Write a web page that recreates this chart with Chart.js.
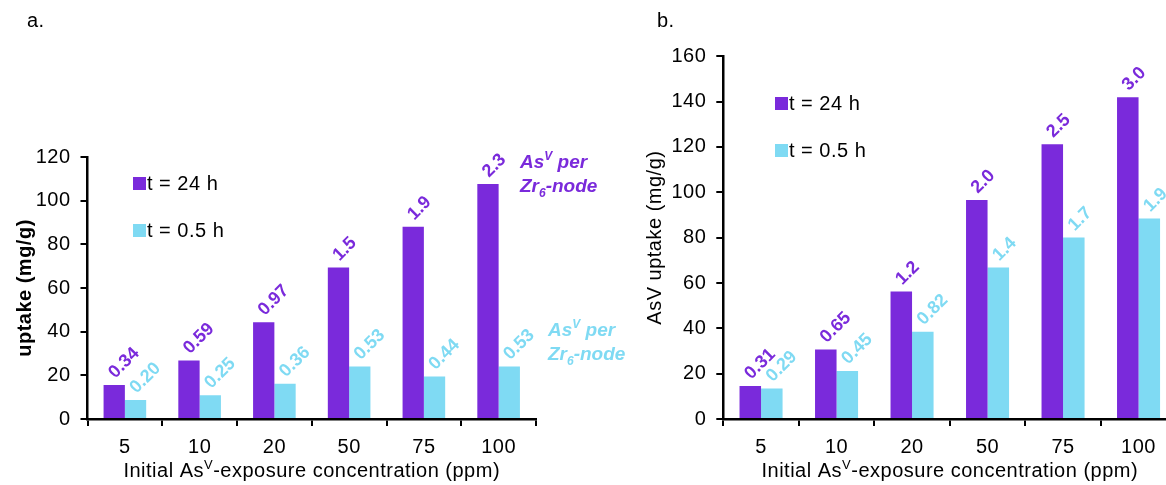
<!DOCTYPE html>
<html>
<head>
<meta charset="utf-8">
<script src="https://cdn.jsdelivr.net/npm/chart.js@4.4.1/dist/chart.umd.min.js"></script>
<style>
  html, body { margin: 0; padding: 0; background: #fff; }
  #page { position: relative; width: 1166px; height: 485px; overflow: hidden; }
  .panel { position: absolute; top: 0; height: 485px; }
  #boxA { left: 0; width: 650px; }
  #boxB { left: 600px; width: 600px; }
</style>
</head>
<body>
<div id="page">
  <div class="panel" id="boxA"><canvas id="chartA"></canvas></div>
  <div class="panel" id="boxB"><canvas id="chartB"></canvas></div>
</div>
<script>
const concentrations = ['5', '10', '20', '50', '75', '100'];
const seriesNames = ['t = 24 h', 't = 0.5 h'];
const PURPLE = '#7a2adb';
const CYAN = '#7fdaf3';
const FONT = '"Liberation Sans", Arial, sans-serif';
const SPACING = '0.5px';

// panel a - uptake in mg/g and As(V) per Zr6 node
const uptakeA24 = [15.6, 26.8, 44.3, 69.4, 88.1, 107.6];
const uptakeA05 = [8.7, 10.9, 16.1, 24.0, 19.5, 24.0];
const perNodeA24 = ['0.34', '0.59', '0.97', '1.5', '1.9', '2.3'];
const perNodeA05 = ['0.20', '0.25', '0.36', '0.53', '0.44', '0.53'];

// panel b
const uptakeB24 = [14.6, 30.7, 56.2, 96.6, 121.2, 141.9];
const uptakeB05 = [13.5, 21.2, 38.5, 66.8, 80.1, 88.5];
const perNodeB24 = ['0.31', '0.65', '1.2', '2.0', '2.5', '3.0'];
const perNodeB05 = ['0.29', '0.45', '0.82', '1.4', '1.7', '1.9'];

const yMaxA = 120;
const yMaxB = 160;
const yStep = 20;

// draws a row of text pieces (for super/subscripts)
function drawRuns(ctx, runs, x, y, align) {
  let total = 0;
  runs.forEach(r => { ctx.font = r.font; r.w = ctx.measureText(r.text).width; total += r.w; });
  let cx = align === 'center' ? x - total / 2 : x;
  ctx.textAlign = 'left';
  ctx.textBaseline = 'alphabetic';
  runs.forEach(r => {
    ctx.font = r.font;
    ctx.fillText(r.text, cx, y + (r.dy || 0));
    cx += r.w;
  });
}

// slightly wider text for axes, like the original figure
const wideText = {
  id: 'wideText',
  beforeDraw(chart) {
    chart.ctx.letterSpacing = SPACING;
  }
};

const perNodeLabels = {
  id: 'perNodeLabels',
  afterDatasetsDraw(chart) {
    const ctx = chart.ctx;
    ctx.save();
    ctx.letterSpacing = '0px';
    ctx.font = 'bold 18px ' + FONT;
    ctx.textAlign = 'left';
    ctx.textBaseline = 'alphabetic';
    chart.data.datasets.forEach((ds, i) => {
      const meta = chart.getDatasetMeta(i);
      ctx.fillStyle = ds.backgroundColor;
      meta.data.forEach((bar, j) => {
        ctx.save();
        ctx.translate(bar.x + 1, bar.y - 6);
        ctx.rotate(-Math.PI / 4);
        ctx.fillText(ds.nodeLabels[j], 0, 0);
        ctx.restore();
      });
    });
    ctx.restore();
  }
};

// legend squares inside the plot
const boxLegend = {
  id: 'boxLegend',
  afterDraw(chart, args, opts) {
    const ctx = chart.ctx;
    ctx.save();
    ctx.letterSpacing = SPACING;
    ctx.font = '20px ' + FONT;
    ctx.textAlign = 'left';
    ctx.textBaseline = 'middle';
    chart.data.datasets.forEach((ds, i) => {
      const y = opts.y + i * opts.gap;
      ctx.fillStyle = ds.backgroundColor;
      ctx.fillRect(opts.x, y - 6, 13, 13);
      ctx.fillStyle = '#000';
      ctx.fillText(ds.label, opts.x + 14, y + 1);
    });
    ctx.restore();
  }
};

const panelText = {
  id: 'panelText',
  afterDraw(chart, args, opts) {
    const ctx = chart.ctx;
    const area = chart.chartArea;
    ctx.save();
    ctx.letterSpacing = SPACING;
    ctx.fillStyle = '#000';
    ctx.font = '20px ' + FONT;
    ctx.textAlign = 'left';
    ctx.fillText(opts.letter, opts.letterX, 27);
    drawRuns(ctx, [
      { text: 'Initial As', font: '20px ' + FONT },
      { text: 'V', font: '13px ' + FONT, dy: -8 },
      { text: '-exposure concentration (ppm)', font: '20px ' + FONT }
    ], (area.left + area.right) / 2, 477, 'center');
    ctx.letterSpacing = '0px';
    (opts.notes || []).forEach(n => {
      ctx.fillStyle = n.color;
      const big = 'italic bold 19px ' + FONT;
      const small = 'italic bold 12px ' + FONT;
      drawRuns(ctx, [
        { text: 'As', font: big },
        { text: 'V', font: small, dy: -8 },
        { text: ' per', font: big }
      ], n.x, n.y, 'left');
      drawRuns(ctx, [
        { text: 'Zr', font: big },
        { text: '6', font: small, dy: 5 },
        { text: '-node', font: big }
      ], n.x, n.y + 24, 'left');
    });
    ctx.restore();
  }
};

function buildPanel(canvasId, p) {
  const ctx = document.getElementById(canvasId).getContext('2d');
  return new Chart(ctx, {
    type: 'bar',
    data: {
      labels: concentrations,
      datasets: [
        { label: seriesNames[0], data: p.s24, nodeLabels: p.n24, backgroundColor: PURPLE },
        { label: seriesNames[1], data: p.s05, nodeLabels: p.n05, backgroundColor: CYAN }
      ]
    },
    options: {
      responsive: true,
      maintainAspectRatio: false,
      animation: false,
      datasets: { bar: { categoryPercentage: 0.57, barPercentage: 1.0 } },
      layout: { padding: { left: 0, top: p.top, right: p.right, bottom: 0 } },
      scales: {
        x: {
          offset: true,
          afterFit: (scale) => { scale.height = 66; },
          grid: { offset: true, drawOnChartArea: false, tickLength: 7, color: '#000', lineWidth: 2 },
          border: { color: '#000', width: 2.5 },
          ticks: { color: '#000', padding: 9, font: { size: 20, family: FONT } }
        },
        y: {
          min: 0,
          max: p.yMax,
          afterFit: (scale) => { scale.width = p.axisX; },
          grid: { drawOnChartArea: false, tickLength: 7, color: '#000', lineWidth: 2 },
          border: { color: '#000', width: 2.5 },
          ticks: { stepSize: yStep, color: '#000', padding: 10, font: { size: 20, family: FONT } },
          title: {
            display: true,
            text: p.yTitle,
            color: '#000',
            padding: { top: p.titlePad, bottom: 0 },
            font: { size: 20, family: FONT, weight: p.titleWeight }
          }
        }
      },
      plugins: {
        legend: { display: false },
        tooltip: { enabled: false },
        boxLegend: p.legend,
        panelText: p.text
      }
    },
    plugins: [wideText, perNodeLabels, boxLegend, panelText]
  });
}

buildPanel('chartA', {
  s24: uptakeA24, s05: uptakeA05, n24: perNodeA24, n05: perNodeA05,
  yMax: yMaxA, top: 157, right: 114, axisX: 87.5,
  yTitle: 'uptake (mg/g)', titleWeight: 'bold', titlePad: 13,
  legend: { x: 133, y: 183, gap: 47 },
  text: {
    letter: 'a.', letterX: 27,
    notes: [
      { color: PURPLE, x: 520, y: 168 },
      { color: CYAN, x: 548, y: 336 }
    ]
  }
});

buildPanel('chartB', {
  s24: uptakeB24, s05: uptakeB05, n24: perNodeB24, n05: perNodeB05,
  yMax: yMaxB, top: 56.3, right: 23.7, axisX: 123.3,
  yTitle: 'AsV uptake (mg/g)', titleWeight: 'normal', titlePad: 43,
  legend: { x: 175, y: 103, gap: 47 },
  text: { letter: 'b.', letterX: 57, notes: [] }
});
</script>
</body>
</html>
